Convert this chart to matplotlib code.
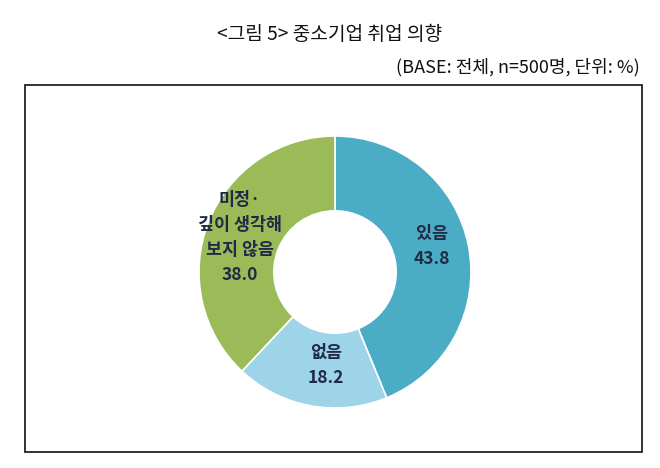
import matplotlib
matplotlib.use("Agg")
from matplotlib import pyplot as plt
from matplotlib.patches import Rectangle
import numpy as np

plt.rcParams['font.family'] = ['Noto Sans CJK KR', 'DejaVu Sans']

labels = ['있음', '없음', '미정·\n깊이 생각해\n보지 않음']
values = [43.8, 18.2, 38.0]
colors = ['#4BACC6', '#9DD4E7', '#9BBB59']

W, H = 660, 468
fig = plt.figure(figsize=(W / 100, H / 100), dpi=100)
ax = fig.add_axes([0, 0, 1, 1])
ax.set_xlim(0, W)
ax.set_ylim(0, H)
ax.set_aspect('equal')
ax.axis('off')

# frame around the chart
ax.add_patch(Rectangle((25, H - 452), 617, 367, fill=False, edgecolor='#222222', lw=1.3))

cx, cy, R = 335, H - 272, 136
wedges, _ = ax.pie(values, colors=colors, startangle=90, counterclock=False,
                   center=(cx, cy), radius=R,
                   wedgeprops=dict(width=R * 0.55, edgecolor='white', linewidth=1.2))
ax.set_xlim(0, W)
ax.set_ylim(0, H)

# label placement: (angle in degrees, distance from centre)
label_pos = [(14.5, 100), (-95.5, 94), (160, 101)]
for lab, val, (ang, r) in zip(labels, values, label_pos):
    x = cx + r * np.cos(np.radians(ang))
    y = cy + r * np.sin(np.radians(ang))
    ax.text(x, y, f'{lab}\n{val:.1f}', ha='center', va='center', fontsize=12.5,
            fontweight='bold', color='#1F2B45', linespacing=1.5)

fig.text(0.5, 1 - 35 / H, '<그림 5> 중소기업 취업 의향', ha='center', va='center',
         fontsize=13.8, color='#111111')
fig.text(640 / W, 1 - 67 / H, '(BASE: 전체, n=500명, 단위: %)', ha='right', va='center',
         fontsize=13, color='#111111')

fig.savefig('out.png', dpi=100)
